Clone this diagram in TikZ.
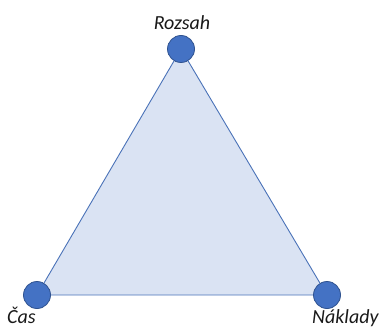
\documentclass[tikz,border=0pt]{standalone}
\usepackage{fontspec}
\setmainfont{Carlito}
\begin{document}
\begin{tikzpicture}[x=1pt,y=1pt,
  vert/.style={circle,fill=vfill,draw=vdraw,line width=0.8pt,minimum size=27pt,inner sep=0pt},
  lbl/.style={font=\fontsize{20}{24}\selectfont\itshape,text=black!90,inner sep=0pt}]
\definecolor{vfill}{HTML}{4472C4}
\definecolor{vdraw}{HTML}{2F528F}
\definecolor{tfill}{HTML}{DAE3F3}
\definecolor{tdraw}{HTML}{4A72B8}
\useasboundingbox (0,0) rectangle (382,327);
\coordinate (t) at (181,278);
\coordinate (l) at (37,32);
\coordinate (r) at (327,32);
\filldraw[fill=tfill,draw=tdraw,line width=0.9pt,line join=round] (t) -- (l) -- (r) -- cycle;
\node[vert] (nt) at (t) {};
\node[vert] (nl) at (l) {};
\node[vert] (nr) at (r) {};
\node[lbl,anchor=base] (lt) at (182,297) {Rozsah};
\node[lbl,anchor=base west] (ll) at (7,4) {Čas};
\node[lbl,anchor=base west] (lr) at (312,4) {Náklady};
\end{tikzpicture}
\end{document}
